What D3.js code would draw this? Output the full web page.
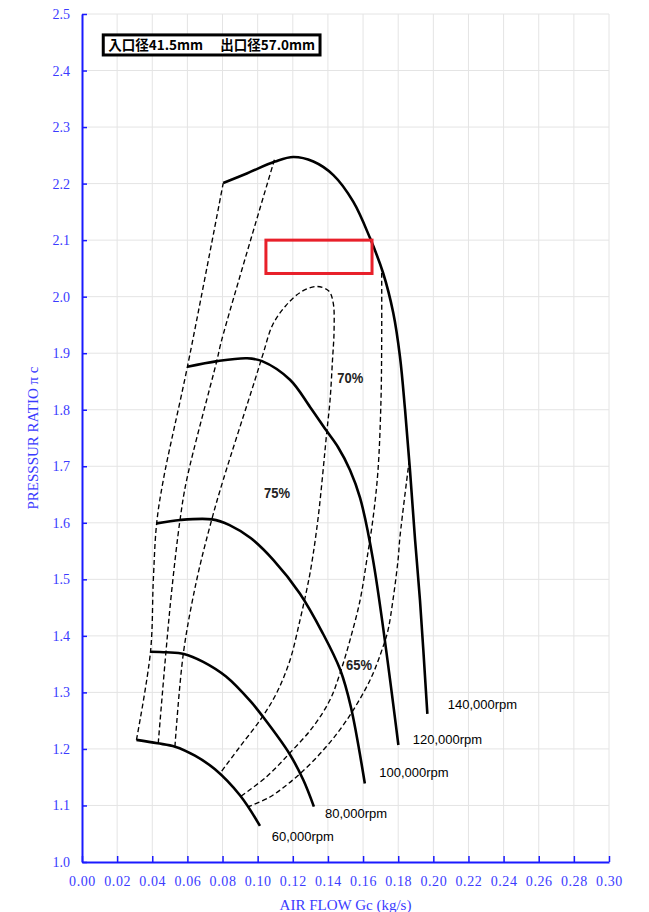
<!DOCTYPE html>
<html>
<head>
<meta charset="utf-8">
<script src="https://cdn.jsdelivr.net/npm/d3@7"></script>
<style>
  body { margin: 0; background: #fff; }
</style>
</head>
<body>
<svg class="graph" width="649" height="912"></svg>
<script>
//======
// Data
//======

// axis ticks
var xTicks = [0.00, 0.02, 0.04, 0.06, 0.08, 0.10, 0.12, 0.14, 0.16, 0.18, 0.20, 0.22, 0.24, 0.26, 0.28, 0.30];
var yTicks = [1.0, 1.1, 1.2, 1.3, 1.4, 1.5, 1.6, 1.7, 1.8, 1.9, 2.0, 2.1, 2.2, 2.3, 2.4, 2.5];

// speed lines [air flow kg/s, pressure ratio]
var speed60k = [[0.031, 1.216], [0.043, 1.210], [0.053, 1.204], [0.0643, 1.188], [0.0757, 1.164], [0.0899, 1.118], [0.1013, 1.064]];
var speed80k = [[0.039, 1.372], [0.048, 1.371], [0.058, 1.368], [0.069, 1.354], [0.082, 1.328], [0.096, 1.284], [0.103, 1.257], [0.118, 1.192], [0.126, 1.145], [0.132, 1.098]];
var speed100k = [[0.0425, 1.599], [0.056, 1.605], [0.074, 1.606], [0.084, 1.596], [0.096, 1.573], [0.109, 1.534], [0.124, 1.475], [0.137, 1.405], [0.147, 1.340], [0.153, 1.275], [0.161, 1.139]];
var speed120k = [[0.060, 1.876], [0.077, 1.886], [0.094, 1.891], [0.1025, 1.886], [0.1184, 1.853], [0.1298, 1.805], [0.1389, 1.764], [0.1457, 1.734], [0.1526, 1.693], [0.1583, 1.644], [0.1657, 1.534], [0.1801, 1.207]];
var speed140k = [[0.0804, 2.201], [0.0938, 2.218], [0.1099, 2.239], [0.1203, 2.247], [0.1317, 2.239], [0.1431, 2.215], [0.1544, 2.168], [0.1639, 2.104], [0.1715, 2.041], [0.1772, 1.971], [0.181, 1.894], [0.1839, 1.800], [0.1867, 1.693], [0.1896, 1.570], [0.1924, 1.463], [0.1966, 1.262]];
var speedNames = ["60,000rpm", "80,000rpm", "100,000rpm", "120,000rpm", "140,000rpm"];
var speedLabelAt = [[0.108, 1.046], [0.1383, 1.086], [0.1692, 1.159], [0.1883, 1.217], [0.2082, 1.279]];

// surge line + efficiency contours
var surgeLine = [[0.031, 1.216], [0.039, 1.372], [0.0406, 1.499], [0.0425, 1.599], [0.0463, 1.676], [0.060, 1.876], [0.0804, 2.201]];
var eff70Left = [[0.0434, 1.210], [0.0478, 1.372], [0.0511, 1.481], [0.0558, 1.605], [0.0596, 1.676], [0.0767, 1.886], [0.0795, 1.923], [0.110, 2.247]];
var eff75 = [[0.0529, 1.204], [0.0577, 1.369], [0.0653, 1.499], [0.0738, 1.605], [0.0804, 1.676], [0.0985, 1.853], [0.1032, 1.900], [0.1085, 1.950], [0.1160, 1.984], [0.1245, 2.008], [0.1336, 2.018], [0.1405, 2.010], [0.1430, 1.989], [0.1435, 1.941], [0.1426, 1.888], [0.1412, 1.817], [0.1393, 1.759], [0.1345, 1.611], [0.1306, 1.525], [0.1279, 1.481], [0.1241, 1.428], [0.1184, 1.357], [0.1108, 1.299], [0.1023, 1.255], [0.0899, 1.204], [0.0786, 1.157]];
var eff70Right = [[0.1706, 2.042], [0.1706, 1.923], [0.1702, 1.817], [0.1685, 1.693], [0.1658, 1.611], [0.1621, 1.534], [0.1583, 1.463], [0.1526, 1.393], [0.1469, 1.334], [0.1412, 1.287], [0.1315, 1.239], [0.1184, 1.193], [0.1051, 1.151], [0.0899, 1.115]];
var eff65 = [[0.1863, 1.711], [0.181, 1.575], [0.1799, 1.534], [0.177, 1.463], [0.1742, 1.410], [0.1713, 1.380], [0.164, 1.322], [0.1507, 1.251], [0.1374, 1.198], [0.1222, 1.151], [0.107, 1.115], [0.0947, 1.098]];
var effNames = ["75%", "70%", "65%"];
var effLabelAt = [[0.1036, 1.653], [0.1453, 1.856], [0.1503, 1.350]];

// annotations
var legendTexts = ["入口径41.5mm", "出口径57.0mm"];
var legendBox = [[0.0121, 2.463], [0.1355, 2.4275]];
var redBox = [[0.1047, 2.100], [0.1651, 2.041]];

//=======
// Chart
//=======

var width = 649, height = 912;
var margin = {top: 14, left: 82, bottom: 50, right: 40};
var chartWidth = width - margin.left - margin.right;
var chartHeight = height - margin.top - margin.bottom;

var svg = d3.select(".graph");
var g = svg.append("g").attr("transform", "translate(" + [margin.left, margin.top] + ")");

var x = d3.scaleLinear().domain([0, 0.30]).range([0, chartWidth]);
var y = d3.scaleLinear().domain([1.0, 2.5]).range([chartHeight, 0]);

// grid
g.append("g").selectAll("line")
  .data(xTicks.slice(1))
  .enter().append("line")
  .attr("x1", d => x(d)).attr("x2", d => x(d))
  .attr("y1", 0).attr("y2", chartHeight)
  .attr("stroke", "#e4e4e4").attr("stroke-width", 1);

g.append("g").selectAll("line")
  .data(yTicks.slice(1))
  .enter().append("line")
  .attr("x1", 0).attr("x2", chartWidth)
  .attr("y1", d => y(d)).attr("y2", d => y(d))
  .attr("stroke", "#e4e4e4").attr("stroke-width", 1);

// axes
var axisBlue = "#1a1aff";
var labelBlue = "#3b3bff";

var xAxis = g.append("g")
  .attr("transform", "translate(0," + chartHeight + ")")
  .call(d3.axisBottom(x).tickValues(xTicks).tickFormat(d3.format(".2f"))
    .tickSize(-6).tickSizeOuter(0).tickPadding(14));

var yAxis = g.append("g")
  .call(d3.axisLeft(y).tickValues(yTicks).tickFormat(d3.format(".1f"))
    .tickSize(-5).tickSizeOuter(0).tickPadding(12));

[xAxis, yAxis].forEach(function (a) {
  a.select(".domain").attr("stroke", axisBlue).attr("stroke-width", 2);
  a.selectAll(".tick line").attr("stroke", axisBlue).attr("stroke-width", 1.5);
  a.selectAll(".tick text")
    .attr("fill", labelBlue)
    .style("font-family", "'Liberation Serif', 'DejaVu Serif', serif")
    .style("font-size", "14px");
});
xAxis.selectAll(".tick text").style("letter-spacing", "0.6px");

// axis titles
svg.append("text")
  .attr("x", margin.left + x(0.15)).attr("y", 910)
  .attr("text-anchor", "middle")
  .attr("fill", labelBlue)
  .style("font-family", "'Liberation Serif', serif")
  .style("font-size", "15px")
  .text("AIR FLOW Gc (kg/s)");

svg.append("text")
  .attr("transform", "translate(38," + (margin.top + y(1.75)) + ") rotate(-90)")
  .attr("text-anchor", "middle")
  .attr("fill", labelBlue)
  .style("font-family", "'Liberation Serif', serif")
  .style("font-size", "15px")
  .text("PRESSSUR RATIO  π c");

// lines
var line = d3.line()
  .x(d => x(d[0]))
  .y(d => y(d[1]))
  .curve(d3.curveCatmullRom.alpha(0.5));

var dashed = [surgeLine, eff70Left, eff75, eff70Right, eff65];
g.append("g").selectAll("path")
  .data(dashed)
  .enter().append("path")
  .attr("d", line)
  .attr("fill", "none")
  .attr("stroke", "#000")
  .attr("stroke-width", 1.35)
  .attr("stroke-dasharray", "5,3");

var speeds = [speed60k, speed80k, speed100k, speed120k, speed140k];
g.append("g").selectAll("path")
  .data(speeds)
  .enter().append("path")
  .attr("d", line)
  .attr("fill", "none")
  .attr("stroke", "#000")
  .attr("stroke-width", 2.6)
  .attr("stroke-linecap", "butt");

// labels
g.append("g").selectAll("text")
  .data(speedNames)
  .enter().append("text")
  .attr("x", (d, i) => x(speedLabelAt[i][0]))
  .attr("y", (d, i) => y(speedLabelAt[i][1]))
  .attr("dy", "0.35em")
  .style("font-family", "'Liberation Sans', Arial, sans-serif")
  .style("font-size", "13px")
  .attr("fill", "#000")
  .text(d => d);

g.append("g").selectAll("text")
  .data(effNames)
  .enter().append("text")
  .attr("x", (d, i) => x(effLabelAt[i][0]))
  .attr("y", (d, i) => y(effLabelAt[i][1]))
  .attr("dy", "0.36em")
  .attr("textLength", 26)
  .attr("lengthAdjust", "spacingAndGlyphs")
  .style("font-family", "'Liberation Sans', Arial, sans-serif")
  .style("font-size", "15px")
  .style("font-weight", "bold")
  .attr("fill", "#222")
  .text(d => d);

// legend box
g.append("rect")
  .attr("x", x(legendBox[0][0])).attr("y", y(legendBox[0][1]))
  .attr("width", x(legendBox[1][0]) - x(legendBox[0][0]))
  .attr("height", y(legendBox[1][1]) - y(legendBox[0][1]))
  .attr("fill", "#fff").attr("stroke", "#000").attr("stroke-width", 3);

var legendY = (y(legendBox[0][1]) + y(legendBox[1][1])) / 2;
g.append("g").selectAll("text")
  .data(legendTexts)
  .enter().append("text")
  .attr("x", (d, i) => x(legendBox[0][0]) + 5 + i * 112)
  .attr("y", legendY)
  .attr("dy", "0.36em")
  .style("font-family", "'Noto Sans CJK JP', 'Noto Sans', sans-serif")
  .style("font-size", "13.5px")
  .style("font-weight", "bold")
  .text(d => d);

// red highlight box
g.append("rect")
  .attr("x", x(redBox[0][0])).attr("y", y(redBox[0][1]))
  .attr("width", x(redBox[1][0]) - x(redBox[0][0]))
  .attr("height", y(redBox[1][1]) - y(redBox[0][1]))
  .attr("fill", "none").attr("stroke", "#e8202a").attr("stroke-width", 3);
</script>
</body>
</html>
